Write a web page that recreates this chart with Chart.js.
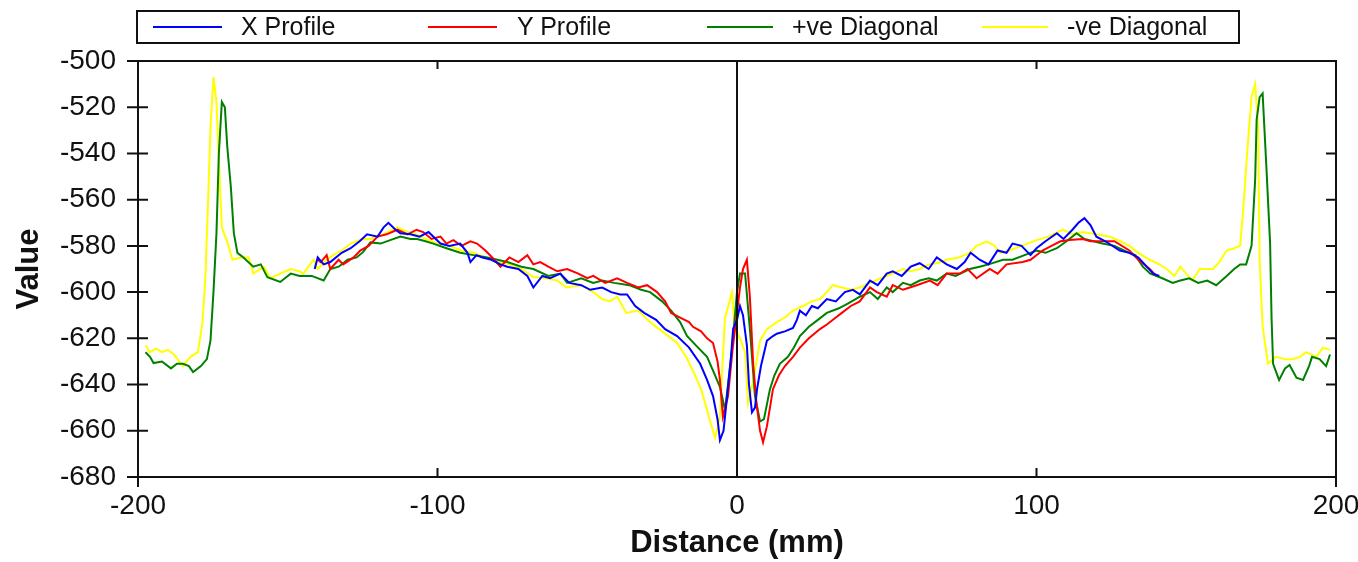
<!DOCTYPE html>
<html>
<head>
<meta charset="utf-8">
<script src="https://cdn.jsdelivr.net/npm/chart.js@4/dist/chart.umd.min.js"></script>
<style>
 body{margin:0;background:#fff;font-family:"Liberation Sans",Arial,sans-serif;}
 #wrap{position:relative;width:1358px;height:562px;}
 #chart{position:absolute;left:0;top:0;}
 #legend{position:absolute;left:136px;top:10px;width:1104px;height:34px;border:2px solid #111;box-sizing:border-box;}
 .ln{position:absolute;height:2px;}
 .lt{position:absolute;font-size:25px;line-height:25px;color:#111;white-space:nowrap;}
</style>
</head>
<body>
<div id="wrap">
 <canvas id="chart" width="1358" height="562"></canvas>
 <div id="legend"></div>
</div>
<script>
// series names + colours
const seriesNames=["X Profile","Y Profile","+ve Diagonal","-ve Diagonal"];
const seriesColors=["#0000ff","#ff0000","#008000","#ffff00"];

// X Profile
const xProfDist=[-141,-140,-138,-135.8,-132,-129,-126,-123.5,-120,-118,-116.4,-114,-112.4,-109,-106,-103,-99,-96,-92.4,-90,-89,-87,-85,-82,-79,-76.7,-73,-70,-68,-65,-62.4,-59,-56,-52,-49,-45,-42,-39,-36.7,-34,-31,-27,-24,-20,-16,-12.3,-10,-8,-6.5,-5.7,-4.5,-3.3,-2,-1.3,0,1,2,3.3,4,5,6,6.7,8,10,12,13.3,16,18.7,20,21,23,25,27,30,33,36,38.7,41,44.4,47,50,52,55,58,61,64,66.7,70,73.4,76,78,81,84,87,90,92,95,98,100,103,106.8,109,112,114,116,118,120,123,127.8,131,134,136.8,139,141];
const xProfVal=[-590,-585,-588,-587,-583,-581,-578,-575,-576,-572,-570,-573,-574.5,-575,-576,-574,-579,-580,-579,-583,-587,-584,-585,-586,-588,-589,-590,-593,-598,-593,-594,-592,-596,-597,-599,-598,-600,-601,-601,-606,-609,-612,-616,-619,-624,-631,-638,-645,-655,-664,-660,-645,-628,-616,-612,-606,-610,-623,-640,-652,-650,-642,-632,-621,-619,-618,-617,-615.5,-612,-608,-610,-606,-607,-603,-604,-600,-599,-601,-595,-597,-592,-591,-593,-589,-587.5,-590,-585,-588,-590,-587,-583,-586,-588,-582,-583,-579,-580,-584,-581,-578,-574.5,-577,-573,-570,-568,-571,-576,-578,-582,-583,-585,-589,-592,-593];

// Y Profile
const yProfDist=[-140,-139,-137,-135.8,-133,-131.5,-128,-125.8,-123,-120,-117,-113.4,-110,-107,-104.8,-102,-99,-97,-94.7,-92,-89,-86.8,-84,-81,-79,-76,-73,-70,-68,-65.7,-63,-60,-56.7,-53,-50,-48,-44,-40,-36.7,-33,-30,-26.7,-24,-22,-19,-16,-14.7,-12,-10,-8,-6.5,-5.7,-4.7,-3,-1.5,0,1,2,3.3,4.3,5.4,6.5,7.7,8.7,10,12,14,16,18.7,21,24,27.7,30,33,35,38,41,44.4,46.7,50,52,55.4,57.7,60,64.4,67,70,74.4,77,80,84.4,87,90,95.4,98,102,105,108,111,115.5,118,122,126,131,134,137.8,140];
const yProfVal=[-586,-587,-584,-590,-586,-588,-585,-582,-580,-576,-575,-573,-575,-573,-574,-577,-576,-579,-577.5,-580,-578,-579,-582,-586,-589,-585,-587,-584,-588,-587,-589,-591,-590,-592,-594,-593,-596,-594,-596,-598,-597,-600,-604,-609,-611,-613,-615,-617,-620,-622,-630,-638,-654,-645,-625,-609,-598,-590,-586,-602,-631,-648,-660,-665,-658,-642,-636,-632,-628,-624,-620,-616,-614,-611,-609,-606,-604,-598,-600,-602,-597,-599,-598,-597,-595,-597,-592,-592,-590,-594,-590,-592,-588,-587,-586,-582,-580,-578,-577.5,-577,-578,-578,-578,-582,-586,-590,-593];

// +ve Diagonal
const posDiagDist=[-197.5,-196,-194.8,-192,-189,-187,-185,-183,-181.6,-179,-177,-175.8,-174.8,-173.8,-173,-172,-171,-170.2,-169,-168,-166.8,-164.8,-161.5,-159,-156.8,-152.5,-149,-146,-142,-138,-135.8,-133,-130,-127,-124.8,-122.4,-119,-115.8,-112.4,-109,-106.8,-104,-101.4,-97,-92.4,-88,-83.4,-80,-76.7,-72,-68,-63,-59,-56.7,-52,-48,-45,-41,-36,-32,-29,-25,-22,-19,-16.7,-13,-10,-8,-5.7,-4,-3,-1.7,0,1,2.7,4.3,6,7.7,9,11,12.5,14.3,17,19,21,24,27,30,34,37,41,44.4,47,50,52,55.4,58,61,64,66.7,70,73,77.7,81,84,88.8,92,96,100,103,106.8,110,113.4,116,119,122,126,131,133,135.5,138,142,145.5,148,151,154,157,160,163.5,166,168,170,171.8,173,173.5,174.5,175.5,176.8,178,178.5,179,181,183,184.5,186.8,189,191,192,194.5,196.7,198];
const posDiagVal=[-626,-628,-630.7,-630,-633,-631,-631,-632,-634.6,-632,-629,-621,-600,-574.5,-540,-517.7,-520,-537,-554.5,-574.5,-583,-585,-589,-588,-593.5,-595.6,-592,-593,-593,-595,-590,-589,-586,-585,-582.6,-578.5,-579,-577.5,-576,-577,-577,-578,-579,-581,-583,-584,-585,-586,-587,-589,-590,-593,-592,-596,-594,-596,-595,-596,-597,-599,-600,-604,-608,-613,-619,-624,-628,-634,-641,-651,-640,-625,-600,-592,-592,-616,-645,-656,-655,-642,-636,-631,-628,-624,-619,-615,-612,-609,-607,-605,-602,-600,-603,-598,-600,-596,-597,-595,-594,-595,-592,-593,-590,-589,-588,-586,-586,-584,-582,-583,-581,-578,-574.5,-577,-578,-579,-580,-583,-584,-589,-592,-594,-596,-595,-594,-596,-595,-597,-593,-590,-588,-588,-580,-551.5,-525.5,-515.6,-514,-547,-579,-612,-631,-638,-633,-631.5,-637,-638,-632,-628,-629,-632,-627];

// -ve Diagonal
const negDiagDist=[-197.5,-196,-194,-192,-190,-188,-185,-182.5,-180,-178.5,-177.5,-176.5,-175.8,-174.8,-173.8,-173,-172,-170,-168.5,-165.8,-163,-161.5,-158,-155.8,-152.5,-149,-146,-144.8,-141.4,-140,-137,-134.8,-132,-129,-125,-122.4,-118,-113.4,-110,-108,-104,-100,-96,-92,-88,-84,-80,-76,-72,-68,-64,-60,-57,-52,-48,-45,-42.4,-40,-37,-33,-29,-25,-20,-17,-14.7,-12,-10,-8.5,-7.3,-5.7,-4.8,-4,-2.7,-1.7,-0.7,1,2.7,3.7,5.3,6.5,7.7,10,13.3,16,18.7,22,25,27.7,30,32,35,38,41,44.4,48,52,55.4,58,61,64,66.7,70,74,77.7,80,83.4,86,88,91,95,100,104,108.8,112,115.5,120,124.5,128,131,134,137.8,141,143.5,146,148,150,152,154.5,157,159,161,163.5,166,168,169,170.5,171.8,173,174,174.5,175.5,177.3,180,183,185.6,188,190,193.5,195.6,198];
const negDiagVal=[-623,-626,-624.5,-626,-625,-627,-632,-628,-626,-613.4,-593.5,-557,-528.6,-507,-518,-543,-572,-579,-586,-585,-585,-592,-589,-594,-592,-590,-591,-592,-586,-590,-586,-584,-582,-579,-577,-577,-575,-572,-574,-574.5,-577,-579,-580,-582,-583,-585,-587,-588,-590,-593.5,-594,-595,-598,-597,-600,-603,-604,-602,-609,-608,-613,-617,-622,-628,-634,-642,-651,-658,-663,-654,-630,-611,-605,-600,-616,-620,-626,-648,-639,-630,-621,-616,-613,-611,-608,-606,-604,-603,-600,-597,-598,-599,-598,-596,-594,-592,-590,-591,-590,-588,-587.5,-586,-585,-583,-580,-578,-580,-583,-582,-580,-577.5,-576,-573,-575,-574,-575,-576,-578,-580,-583,-586,-588,-590,-593,-589,-592,-595,-590,-590,-590,-587,-582,-581,-580,-564.5,-537,-515.6,-510,-528.6,-586,-615,-631,-628,-629,-629,-628,-626,-628,-624,-625];

const xTicks=[-200,-100,0,100,200];
const yTicks=[-500,-520,-540,-560,-580,-600,-620,-640,-660,-680];

const pts=(d,v)=>d.map((x,i)=>({x:x,y:v[i]}));
const allDist=[xProfDist,yProfDist,posDiagDist,negDiagDist];
const allVal=[xProfVal,yProfVal,posDiagVal,negDiagVal];

// legend (boxed, evenly spaced like the original)
const legendPos=[[153,222,241],[428,497,517],[707,773,792],[982,1048,1067]];
const legend=document.getElementById("legend");
seriesNames.forEach((n,i)=>{
 const p=legendPos[i];
 legend.insertAdjacentHTML("beforeend",
  `<div class="ln" style="left:${p[0]-138}px;width:${p[1]-p[0]}px;top:14px;background:${seriesColors[i]}"></div>`+
  `<div class="lt" style="left:${p[2]-138}px;top:2px">${n}</div>`);
});

// frame, tick marks and zero line
const framePlugin={
 id:"frame",
 afterDatasetsDraw(chart){
  const {ctx,chartArea:a,scales:{x,y}}=chart;
  ctx.save();
  ctx.strokeStyle="#111";
  ctx.lineWidth=2;
  ctx.beginPath();
  const x0=x.getPixelForValue(0);
  ctx.moveTo(x0,a.top);ctx.lineTo(x0,a.bottom);
  yTicks.forEach(v=>{
   const py=y.getPixelForValue(v);
   ctx.moveTo(a.left-11,py);ctx.lineTo(a.left+10,py);
   ctx.moveTo(a.right-10,py);ctx.lineTo(a.right,py);
  });
  xTicks.forEach(v=>{
   const px=x.getPixelForValue(v);
   if(v===-200||v===200){
    ctx.moveTo(px,a.bottom);ctx.lineTo(px,a.bottom+10);
   }else{
    ctx.moveTo(px,a.bottom-9);ctx.lineTo(px,a.bottom);
    ctx.moveTo(px,a.top);ctx.lineTo(px,a.top+8);
   }
  });
  ctx.stroke();
  ctx.strokeRect(a.left,a.top,a.right-a.left,a.bottom-a.top);
  ctx.restore();
 }
};

new Chart(document.getElementById("chart"),{
 type:"line",
 data:{
  datasets:seriesNames.map((n,i)=>({
   label:n,
   data:pts(allDist[i],allVal[i]),
   borderColor:seriesColors[i],
   borderWidth:2,
   pointRadius:0,
   tension:0,
   fill:false
  }))
 },
 options:{
  responsive:false,
  animation:false,
  devicePixelRatio:1,
  layout:{padding:{left:0,right:22,top:61,bottom:0}},
  plugins:{legend:{display:false},tooltip:{enabled:false}},
  scales:{
   x:{
    type:"linear",min:-200,max:200,
    afterBuildTicks:s=>{s.ticks=xTicks.map(v=>({value:v}));},
    afterFit:s=>{s.height=85;s.paddingLeft=0;s.paddingRight=0;},
    grid:{display:false,drawTicks:false},
    border:{display:false},
    ticks:{padding:12,color:"#111",font:{family:"Liberation Sans",size:28},maxRotation:0,autoSkip:false},
    title:{display:true,text:"Distance (mm)",color:"#111",font:{family:"Liberation Sans",size:31,weight:"bold"},padding:{top:0,bottom:0}}
   },
   y:{
    min:-680,max:-500,
    afterBuildTicks:s=>{s.ticks=yTicks.map(v=>({value:v}));},
    afterFit:s=>{s.width=138;},
    grid:{display:false,drawTicks:false},
    border:{display:false},
    ticks:{padding:22,color:"#111",font:{family:"Liberation Sans",size:28},autoSkip:false},
    title:{display:true,text:"Value",color:"#111",font:{family:"Liberation Sans",size:31,weight:"bold"},padding:{top:11,bottom:0}}
   }
  }
 },
 plugins:[framePlugin]
});
</script>
</body>
</html>
